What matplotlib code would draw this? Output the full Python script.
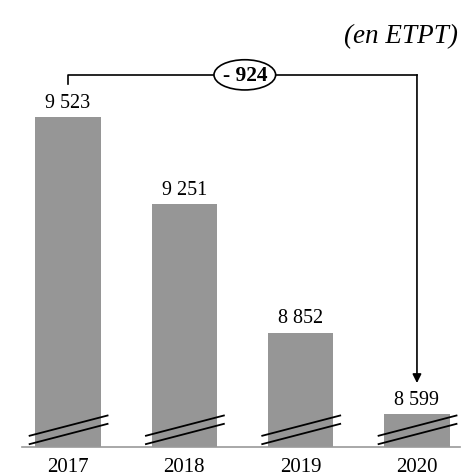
import matplotlib.pyplot as plt
from matplotlib.patches import Ellipse

years = ["2017", "2018", "2019", "2020"]
etpt = [9523, 9251, 8852, 8599]
labels = ["9 523", "9 251", "8 852", "8 599"]
diff_label = "- 924"

BAR_COLOR = "#969696"
plt.rcParams["font.family"] = ["Liberation Serif", "DejaVu Serif"]

fig = plt.figure(figsize=(4.67, 4.77), dpi=100)
ax = fig.add_axes([22 / 467, 29 / 477, 438 / 467, 448 / 477])

x = list(range(len(years)))
ax.bar(x, etpt, width=0.56, color=BAR_COLOR, zorder=2)
ax.set_xlim(-0.3955, 3.37)
ax.set_ylim(8496, 9890)

for i, v in enumerate(etpt):
    ax.text(i, v + 16, labels[i], ha="center", va="bottom", fontsize=14.5)
    # axis break marks
    for off in (0, 26):
        ax.plot([i - 0.33, i + 0.34], [8505 + off, 8568 + off],
                color="black", lw=1.3, zorder=3, clip_on=False)

# bracket from first to last year
top = etpt[0] + 131
ax.plot([0, 0, 3], [etpt[0] + 103, top, top], color="black", lw=1.2)
ax.annotate("", xy=(3, etpt[-1] + 96), xytext=(3, top),
            arrowprops=dict(arrowstyle="-|>", color="black", lw=1.2,
                            mutation_scale=13, shrinkA=0, shrinkB=0))
ax.add_patch(Ellipse((1.52, top), 0.53, 94, facecolor="white",
                     edgecolor="black", lw=1.2, zorder=4))
ax.text(1.52, top, diff_label, ha="center", va="center", fontsize=15.5,
        fontweight="bold", zorder=5)

ax.set_xticks(x)
ax.set_xticklabels(years, fontsize=15)
ax.tick_params(axis="x", length=0, pad=7)
ax.set_yticks([])
for side in ("top", "right", "left"):
    ax.spines[side].set_visible(False)
ax.spines["bottom"].set_color("#999999")
ax.spines["bottom"].set_linewidth(1.2)

fig.text(458 / 467, 1 - 37 / 477, "(en ETPT)", ha="right", va="center",
         fontsize=19.5, style="italic")

fig.savefig("out.png", dpi=100)
